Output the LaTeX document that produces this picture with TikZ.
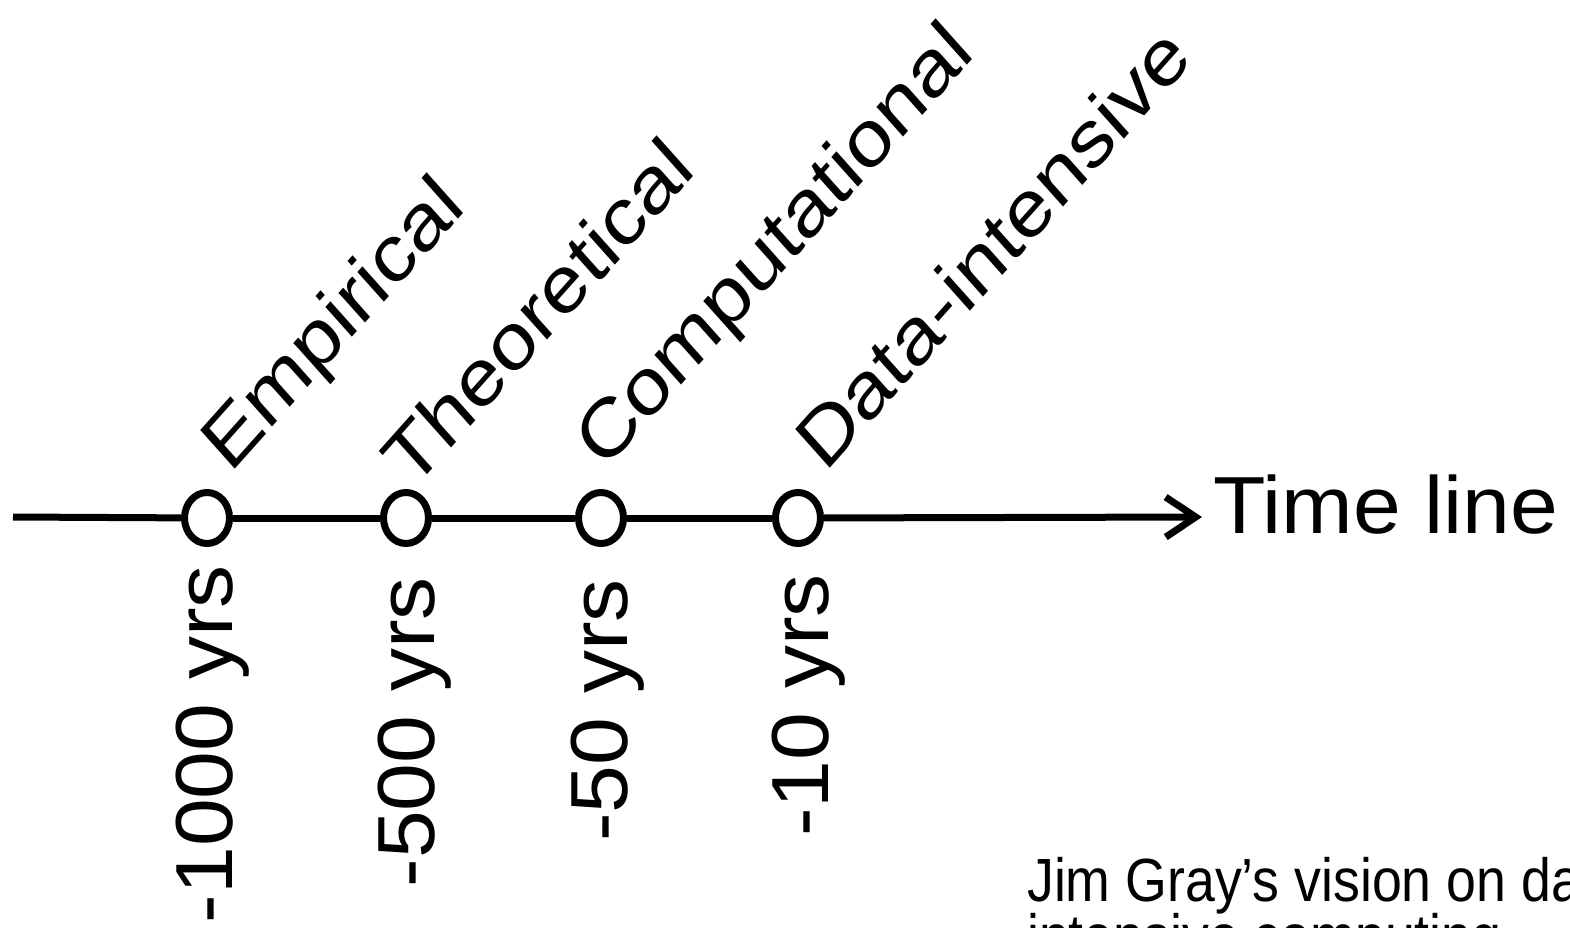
\documentclass[tikz,border=0pt]{standalone}
\usepackage{fontspec}
\setmainfont{Liberation Sans}
\usetikzlibrary{arrows.meta,shapes.geometric}
\begin{document}
\begin{tikzpicture}[x=1pt,y=-1pt,
  ev/.style={ellipse, draw, line width=7pt, fill=white, minimum width=45pt, minimum height=51pt, inner sep=0pt},
  axis/.style={line width=7pt},
  era/.style={font=\fontsize{71}{71}\selectfont, rotate=45, xscale=1.15, anchor=base west, inner sep=0pt},
  yrs/.style={font=\fontsize{81}{81}\selectfont, rotate=90, xscale=1.06, anchor=base east, inner sep=0pt},
  capt/.style={font=\fontsize{61}{61}\selectfont, xscale=0.88, anchor=base west, inner sep=0pt},
]
\path[use as bounding box, clip] (0,0) rectangle (1570,927);
\fill[white] (0,0) rectangle (1570,927);

\coordinate (start) at (13,517);
\coordinate (end) at (1202,517);
\node[ev] (c1) at (207,518) {};
\node[ev] (c2) at (406,518) {};
\node[ev] (c3) at (601,518) {};
\node[ev] (c4) at (798,518) {};

\draw[axis] (start) -- (c1);
\draw[axis] (c1) -- (c2);
\draw[axis] (c2) -- (c3);
\draw[axis] (c3) -- (c4);
\draw[axis, -{Straight Barb[length=30pt, width=40pt]}] (c4) -- (end);

\node[font=\fontsize{81}{81}\selectfont, xscale=1.06, anchor=base west, inner sep=0pt] (tl) at (1213,533) {Time line};

\coordinate (pe) at (230,475);
\coordinate (pt) at (412,492);
\coordinate (pc) at (604,472);
\coordinate (pd) at (825,474);
\begin{scope}[yscale=1.12, transform shape]
  \node[era] (le) at (pe) {Empirical};
  \node[era] (lt) at (pt) {Theoretical};
  \node[era] (lc) at (pc) {Computational};
  \node[era] (ld) at (pd) {Data-intensive};
\end{scope}

\node[yrs] (y1) at (232,565) {-1000 yrs};
\node[yrs] (y2) at (434,577) {-500 yrs};
\node[yrs] (y3) at (627,579) {-50 yrs};
\node[yrs] (y4) at (828,574) {-10 yrs};

\node[capt] (cap1) at (1027,901) {Jim Gray’s vision on data-};
\node[capt] (cap2) at (1027,957) {intensive computing};
\end{tikzpicture}
\end{document}
